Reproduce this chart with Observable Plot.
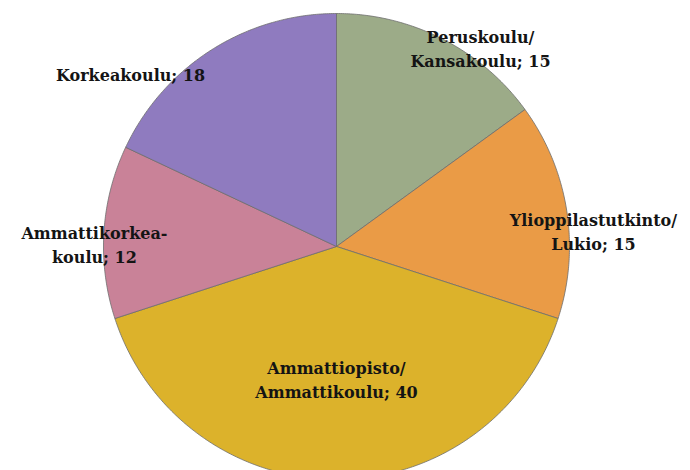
<!DOCTYPE html>
<html><head><meta charset="utf-8">
<script src="https://cdn.jsdelivr.net/npm/d3@7"></script>
<script src="https://cdn.jsdelivr.net/npm/@observablehq/plot@0.6"></script>
<style>body{margin:0;background:#fff;overflow:hidden}</style>
</head><body><div id="chart"></div>
<script>
// Data
const categories = ["Peruskoulu/\nKansakoulu", "Ylioppilastutkinto/\nLukio", "Ammattiopisto/\nAmmattikoulu", "Ammattikorkea-\nkoulu", "Korkeakoulu"];
const values = [15, 15, 40, 12, 18];
const colors = ["#9cab88", "#ea9b46", "#dcb22b", "#c98298", "#8f7bbf"];

// Layout (label anchor: angle clockwise from top in degrees, radius as fraction of pie radius)
const labelAngle = [35.9, 86.4, 180, 270.7, 310];
const labelRadius = [1.054, 1.105, 0.567, 1.039, 1.154];

const W = 690, H = 470, cx = 336, cy = 246, R = 233;

const total = d3.sum(values);
const slices = [];
let acc = 0;
values.forEach((v, i) => {
  const a0 = acc / total * 2 * Math.PI;
  acc += v;
  const a1 = acc / total * 2 * Math.PI;
  const n = Math.max(2, Math.ceil((a1 - a0) / (Math.PI / 360)));
  slices.push({name: categories[i], x: 0, y: 0});
  for (let k = 0; k <= n; k++) {
    const a = a0 + (a1 - a0) * k / n;
    slices.push({name: categories[i], x: Math.sin(a), y: -Math.cos(a)});
  }
  slices.push({name: categories[i], x: 0, y: 0});
});

const labels = categories.map((c, i) => {
  const a = labelAngle[i] * Math.PI / 180;
  return {text: c + "; " + values[i], x: labelRadius[i] * Math.sin(a), y: -labelRadius[i] * Math.cos(a)};
});

const chart = Plot.plot({
  width: W, height: H, margin: 0,
  x: {domain: [-cx / R, (W - cx) / R], range: [0, W], axis: null},
  y: {domain: [-cy / R, (H - cy) / R], range: [0, H], axis: null},
  color: {domain: categories, range: colors},
  style: {background: "#fff", overflow: "visible"},
  marks: [
    Plot.line(slices, {x: "x", y: "y", z: "name", fill: "name", stroke: "#6e6e6e", strokeWidth: 1, strokeOpacity: 0.8, curve: "linear"}),
    Plot.text(labels, {x: "x", y: "y", text: "text", fontFamily: "DejaVu Serif", fontWeight: "bold", fontSize: 16, fill: "#141414", lineHeight: 1.5, textAnchor: "middle"})
  ]
});
document.getElementById("chart").appendChild(chart);
</script>
</body></html>
